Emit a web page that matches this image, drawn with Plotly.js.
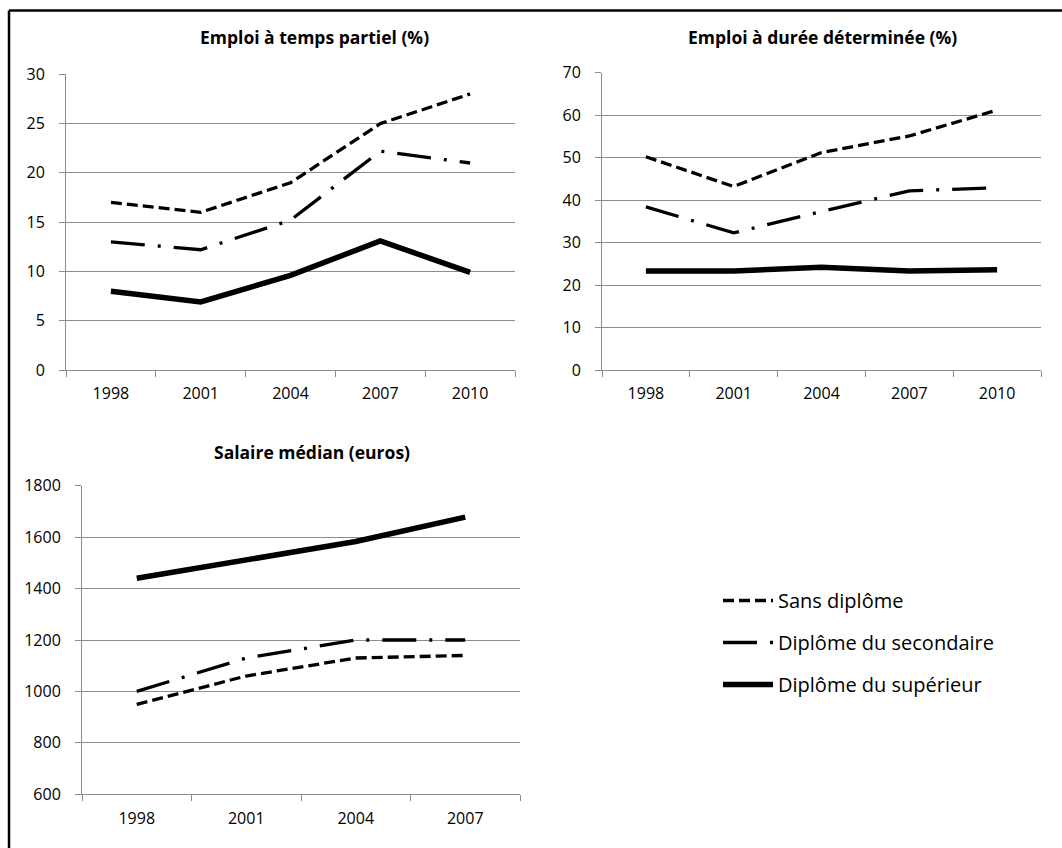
<!DOCTYPE html>
<html><head><meta charset="utf-8">
<script src="https://cdn.plot.ly/plotly-3.0.1.min.js"></script>
<style>html,body{margin:0;padding:0;background:#fff}#c{width:1062px;height:848px}</style>
</head><body><div id="c"></div>
<script>
const years5 = ['1998','2001','2004','2007','2010'];
const years4 = ['1998','2001','2004','2007'];
const seriesNames = ['Sans diplôme','Diplôme du secondaire','Diplôme du supérieur'];
const partielSans = [17, 16, 19, 25, 28];
const partielSec = [13, 12.2, 15.2, 22.2, 21];
const partielSup = [8, 6.9, 9.6, 13.1, 9.9];
const cddSans = [50.2, 43.2, 51.2, 55.1, 61.2];
const cddSec = [38.4, 32.3, 37.3, 42.2, 42.9];
const cddSup = [23.3, 23.3, 24.2, 23.3, 23.6];
const salSans = [950, 1060, 1130, 1140];
const salSec = [1000, 1130, 1200, 1200];
const salSup = [1440, 1510, 1583, 1678];
const titles = ['Emploi à temps partiel (%)','Emploi à durée déterminée (%)','Salaire médian (euros)'];

const W = 1062, H = 848;
const fx = p => p / W, fy = p => 1 - p / H;
const FONT = 'Open Sans, sans-serif';
const styles = [
  {dash: '11px,5px', width: 3.3},
  {dash: '34px,13px,3px,13px', width: 3.3},
  {dash: 'solid', width: 5.5}
];
function tr(x, y, i, xa, ya, show) {
  return {x: x, y: y, type: 'scatter', mode: 'lines', name: seriesNames[i],
    xaxis: xa, yaxis: ya, showlegend: show, legendgroup: 'g' + i,
    line: {color: '#000', width: styles[i].width, dash: styles[i].dash}, hoverinfo: 'skip'};
}
const data = [
  tr(years5, partielSans, 0, 'x', 'y', true),
  tr(years5, partielSec, 1, 'x', 'y', true),
  tr(years5, partielSup, 2, 'x', 'y', true),
  tr(years5, cddSans, 0, 'x2', 'y2', false),
  tr(years5, cddSec, 1, 'x2', 'y2', false),
  tr(years5, cddSup, 2, 'x2', 'y2', false),
  tr(years4, salSans, 0, 'x3', 'y3', false),
  tr(years4, salSec, 1, 'x3', 'y3', false),
  tr(years4, salSup, 2, 'x3', 'y3', false)
];
const grid = '#8c8c8c';
function xax(dom, anchor) {
  return {domain: dom, anchor: anchor, type: 'category', tickson: 'boundaries',
    ticks: 'outside', ticklen: 6, tickcolor: grid, showline: true, linecolor: grid, linewidth: 1,
    showgrid: false, zeroline: false, fixedrange: true, ticklabelstandoff: 9,
    tickfont: {family: FONT, size: 16, color: '#000'}};
}
function yax(dom, anchor, range, dtick) {
  return {domain: dom, anchor: anchor, range: range, dtick: dtick, tick0: 0,
    ticks: 'outside', ticklen: 6, tickcolor: grid, showline: true, linecolor: grid, linewidth: 1,
    showgrid: true, gridcolor: grid, gridwidth: 1, zeroline: false, fixedrange: true, ticklabelstandoff: 11,
    tickfont: {family: FONT, size: 16, color: '#000'}};
}
function ttl(t, x, y) {
  return {text: '<b>' + t + '</b>', xref: 'paper', yref: 'paper', x: fx(x), y: fy(y),
    xanchor: 'center', yanchor: 'middle', showarrow: false, font: {family: FONT, size: 17.5, color: '#000'}};
}
const layout = {
  width: W, height: H, margin: {l: 0, r: 0, t: 0, b: 0},
  paper_bgcolor: '#fff', plot_bgcolor: 'rgba(0,0,0,0)',
  font: {family: FONT, color: '#000'},
  xaxis: Object.assign(xax([fx(66), fx(515)], 'y'), {range: [-0.5, 4.5]}),
  yaxis: yax([fy(370), fy(74.3)], 'x', [0, 30], 5),
  xaxis2: Object.assign(xax([fx(602), fx(1041)], 'y2'), {range: [-0.5, 4.5]}),
  yaxis2: yax([fy(370), fy(72.7)], 'x2', [0, 70], 10),
  xaxis3: Object.assign(xax([fx(82), fx(520)], 'y3'), {range: [-0.5, 3.5]}),
  yaxis3: yax([fy(794.3), fy(485.7)], 'x3', [600, 1800], 200),
  showlegend: true,
  legend: {x: fx(718), y: fy(581), xanchor: 'left', yanchor: 'top', bgcolor: 'rgba(0,0,0,0)',
    font: {family: FONT, size: 20, color: '#000'}, tracegroupgap: 13, itemwidth: 50,
    traceorder: 'grouped'},
  annotations: [ttl(titles[0], 314, 37), ttl(titles[1], 822, 37), ttl(titles[2], 312, 452)],
  shapes: [
    {type: 'line', xref: 'paper', yref: 'paper', x0: fx(9), x1: 1, y0: fy(10.5), y1: fy(10.5), line: {color: '#000', width: 2.5}},
    {type: 'line', xref: 'paper', yref: 'paper', x0: fx(9), x1: fx(9), y0: fy(10.5), y1: 0, line: {color: '#000', width: 2.5}}
  ]
};
Plotly.newPlot('c', data, layout, {displayModeBar: false, staticPlot: true});
</script></body></html>
